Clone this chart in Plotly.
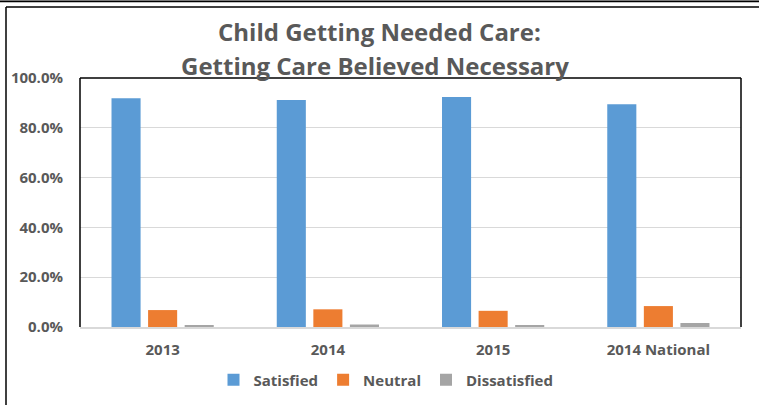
import plotly.graph_objects as go

categories = ["2013", "2014", "2015", "2014 National"]
satisfied = [0.919, 0.912, 0.924, 0.895]
neutral = [0.068, 0.071, 0.065, 0.084]
dissatisfied = [0.008, 0.010, 0.008, 0.016]

series_names = ["Satisfied", "Neutral", "Dissatisfied"]
colors = ["#5B9BD5", "#ED7D31", "#A5A5A5"]
title_line1 = "Child Getting Needed Care:"
title_line2 = "Getting Care Believed Necessary"

W, H = 759, 405
L, R, T, B = 80, 18, 78, 78
pw, ph = W - L - R, H - T - B

def px_x(x):
    return (x - L) / pw

def px_y(y):
    return (H - B - y) / ph

font_family = "'Open Sans', Lato, sans-serif"
text_color = "#595959"
tick_font = dict(size=15, color=text_color, family=font_family, weight="bold")

fig = go.Figure()
for name, vals, col in zip(series_names, [satisfied, neutral, dissatisfied], colors):
    fig.add_trace(go.Bar(
        x=categories, y=vals, name=name,
        marker=dict(color=col, line=dict(color=col, width=0)),
    ))

fig.update_layout(
    width=W, height=H,
    margin=dict(l=L, r=R, t=T, b=B, autoexpand=False),
    paper_bgcolor="white", plot_bgcolor="white",
    barmode="group", bargap=0.336, bargroupgap=0.205,
    font=dict(family=font_family, color=text_color),
    showlegend=True,
    legend=dict(
        orientation="h", xref="container", yref="container",
        x=386 / W, xanchor="center", y=1 - 380 / H, yanchor="middle",
        font=tick_font, itemwidth=30, traceorder="normal",
    ),
    xaxis=dict(
        automargin=False,
        showgrid=False, showline=True, linecolor="#D9D9D9", linewidth=1.5,
        ticks="", tickfont=tick_font, ticklabelstandoff=8,
    ),
    yaxis=dict(
        automargin=False,
        range=[0, 1], dtick=0.2, tickformat=".1%",
        showgrid=True, gridcolor="#D9D9D9", gridwidth=1,
        zeroline=False, showline=False, ticks="",
        tickfont=tick_font, ticklabelstandoff=16,
    ),
    annotations=[
        dict(text=title_line1, xref="paper", yref="paper", x=px_x(379), y=px_y(32),
             xanchor="center", yanchor="middle", showarrow=False,
             font=dict(size=24, color=text_color, family=font_family, weight="bold")),
        dict(text=title_line2, xref="paper", yref="paper", x=px_x(375), y=px_y(65),
             xanchor="center", yanchor="middle", showarrow=False,
             font=dict(size=24, color=text_color, family=font_family, weight="bold")),
    ],
    shapes=[
        # plot area frame (left, top, right)
        dict(type="line", xref="paper", yref="paper", x0=0, x1=0, y0=0, y1=1,
             line=dict(color="black", width=1.5)),
        dict(type="line", xref="paper", yref="paper", x0=0, x1=1, y0=1, y1=1,
             line=dict(color="black", width=1.5)),
        dict(type="line", xref="paper", yref="paper", x0=1, x1=1, y0=0, y1=1,
             line=dict(color="black", width=1.5)),
        # outer chart frame (left and top)
        dict(type="line", xref="paper", yref="paper", x0=px_x(6), x1=px_x(6), y0=px_y(410), y1=px_y(7),
             line=dict(color="black", width=1.5)),
        dict(type="line", xref="paper", yref="paper", x0=px_x(6), x1=px_x(760), y0=px_y(7), y1=px_y(7),
             line=dict(color="black", width=1.5)),
        # strip at very top
        dict(type="line", xref="paper", yref="paper", x0=px_x(0), x1=px_x(760), y0=px_y(0.3), y1=px_y(0.3),
             line=dict(color="#8C8C8C", width=1)),
        dict(type="line", xref="paper", yref="paper", x0=px_x(0), x1=px_x(760), y0=px_y(1.6), y1=px_y(1.6),
             line=dict(color="black", width=1.5)),
    ],
)

fig.write_html("out.html", config={"displayModeBar": False},
               post_script="document.body.style.margin='0px';")
